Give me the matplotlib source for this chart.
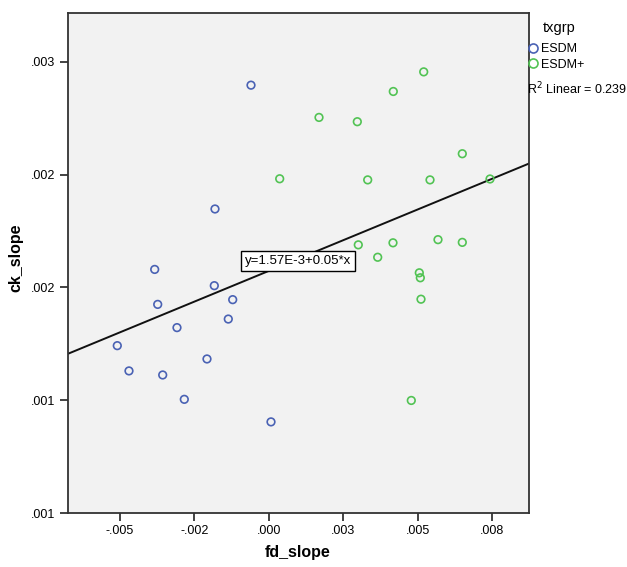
import numpy as np
import matplotlib
matplotlib.use("Agg")
import matplotlib.pyplot as plt
from matplotlib.lines import Line2D

plt.rcParams['font.family'] = ['Liberation Sans', 'DejaVu Sans']

# fd_slope / ck_slope per group
esdm_x = [-0.000598, -0.001808, -0.003834, -0.001831, -0.001213, -0.003733, -0.001361,
          -0.003085, -0.005091, -0.002077, -0.004698, -0.003565, -0.002839, 0.000074]
esdm_y = [0.002397, 0.001848, 0.001580, 0.001508, 0.001446, 0.001425, 0.001360,
          0.001322, 0.001242, 0.001183, 0.001130, 0.001112, 0.001004, 0.000904]

esdmp_x = [0.000366, 0.005205, 0.004183, 0.001687, 0.002974, 0.006502, 0.003323, 0.005417,
           0.007433, 0.003007, 0.004173, 0.005685, 0.006502, 0.003659, 0.005057, 0.005091,
           0.005114, 0.004788]
esdmp_y = [0.001982, 0.002456, 0.002369, 0.002254, 0.002235, 0.002093, 0.001977, 0.001977,
           0.001981, 0.001689, 0.001698, 0.001712, 0.001700, 0.001634, 0.001565, 0.001543,
           0.001448, 0.000999]

xticks = [-0.005, -0.0025, 0.0, 0.0025, 0.005, 0.0075]
xtick_labels = ['-.005', '-.002', '.000', '.003', '.005', '.008']
yticks = [0.0005, 0.0010, 0.0015, 0.0020, 0.0025]
ytick_labels = ['.001', '.001', '.002', '.002', '.003']

blue = '#4A62B4'
green = '#52C354'

fig = plt.figure(figsize=(6.27, 5.67), dpi=100)
ax = fig.add_axes([68/627, 1 - 513/567, 461/627, 500/567])
ax.set_facecolor('#F2F2F2')

ax.scatter(esdm_x, esdm_y, s=30, facecolors='none', edgecolors=blue, linewidths=1.2, zorder=3)
ax.scatter(esdmp_x, esdmp_y, s=30, facecolors='none', edgecolors=green, linewidths=1.2, zorder=3)

xlim = (-0.006747, 0.008743)
ylim = (0.0005, 0.002717)

# linear fit over all points
all_x = np.array(esdm_x + esdmp_x)
all_y = np.array(esdm_y + esdmp_y)
slope, icpt = np.polyfit(all_x, all_y, 1)
lx = np.array(xlim)
ax.plot(lx, icpt + slope * lx, color='#111111', lw=1.4, zorder=2)

ax.set_xlim(xlim)
ax.set_ylim(ylim)
ax.set_xticks(xticks)
ax.set_xticklabels(xtick_labels)
ax.set_yticks(yticks)
ax.set_yticklabels(ytick_labels)
ax.tick_params(direction='out', length=6, width=1.2, labelsize=9, color='#222222', pad=3)
for s in ax.spines.values():
    s.set_linewidth(1.3)
    s.set_color('#333333')

ax.text(0.499, 0.504, 'y=1.57E-3+0.05*x', transform=ax.transAxes, ha='center', va='center',
        fontsize=9.5, zorder=4,
        bbox=dict(boxstyle='square,pad=0.3', facecolor='white', edgecolor='black', lw=1))

fig.text(298/627, 1 - 553/567, 'fd_slope', ha='center', va='center', fontsize=11.5, fontweight='bold')
fig.text(16/627, 1 - 258/567, 'ck_slope', ha='center', va='center', rotation=90,
         fontsize=11.5, fontweight='bold')

fig.text(559/627, 1 - 28/567, 'txgrp', ha='center', va='center', fontsize=10.5)
handles = [Line2D([], [], marker='o', ls='none', markersize=6.5, markerfacecolor='none',
                  markeredgecolor=blue, markeredgewidth=1.2),
           Line2D([], [], marker='o', ls='none', markersize=6.5, markerfacecolor='none',
                  markeredgecolor=green, markeredgewidth=1.2)]
leg = fig.legend(handles, ['ESDM', 'ESDM+'], loc='upper left',
                 bbox_to_anchor=(529/627, 1 - 43/567), frameon=False, fontsize=9,
                 handlelength=0.7, handletextpad=0.3,
                 labelspacing=0.3, borderpad=0, borderaxespad=0)

fig.text(527/627, 1 - 89/567, r'R$^2$ Linear = 0.239', ha='left', va='center', fontsize=9)

fig.savefig('out.png', dpi=100)
